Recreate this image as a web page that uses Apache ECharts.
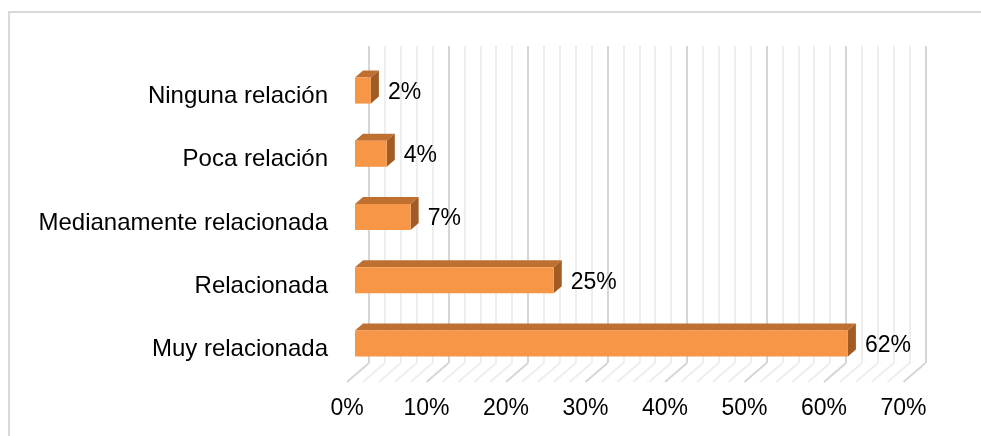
<!DOCTYPE html>
<html>
<head>
<meta charset="utf-8">
<script src="https://cdn.jsdelivr.net/npm/echarts@6/dist/echarts.min.js"></script>
<style>
  html, body { margin: 0; padding: 0; background: #ffffff; }
  #chart { width: 981px; height: 436px; }
</style>
</head>
<body>
<div id="chart"></div>
<script>
// Categories listed bottom to top (category axes grow upward)
const categories = ['Muy relacionada', 'Relacionada', 'Medianamente relacionada', 'Poca relación', 'Ninguna relación'];
const shares = [62, 25, 7, 4, 2];
const tickLabels = ['0%', '10%', '20%', '30%', '40%', '50%', '60%', '70%'];

const AXIS_MAX = 70;
const MAJOR_STEP = 10;
const MINOR_STEP = 2;

// Pseudo-3D geometry (pixels)
const FONT = "'Liberation Sans', Arial, sans-serif";
const WALL = { left: 369, top: 46, width: 556.5, height: 317 };
const FLOOR = { left: 347, top: 363, width: 556.5, height: 19 };
const FRONT = { left: 355, top: 65, width: 556.5, height: 316 };
const BAR_H = 26;
const BAR_DX = 8, BAR_DY = -7;
const BAR_LIFT = 6;

const COLORS = {
  front: '#F79646',
  top: '#BF6F30',
  side: '#A15B25',
  major: '#D6D6D6',
  minor: '#EEEEEE',
  frame: '#D9D9D9'
};

const chart = echarts.init(document.getElementById('chart'), null, { renderer: 'canvas' });

function renderBar(params, api) {
  const cat = api.value(1);
  const v = api.value(0);
  const p0 = api.coord([0, cat]);
  const p1 = api.coord([v, cat]);
  const x0 = p0[0], x1 = p1[0];
  const y0 = p0[1] - BAR_LIFT - BAR_H / 2;
  const y1 = y0 + BAR_H;
  return {
    type: 'group',
    children: [
      {
        type: 'polygon',
        shape: { points: [[x0, y0], [x0 + BAR_DX, y0 + BAR_DY], [x1 + BAR_DX, y0 + BAR_DY], [x1, y0]] },
        style: { fill: COLORS.top }
      },
      {
        type: 'polygon',
        shape: { points: [[x1, y0], [x1 + BAR_DX, y0 + BAR_DY], [x1 + BAR_DX, y1 + BAR_DY], [x1, y1]] },
        style: { fill: COLORS.side }
      },
      {
        type: 'rect',
        shape: { x: x0, y: y0, width: x1 - x0, height: BAR_H },
        style: { fill: COLORS.front }
      },
      {
        type: 'text',
        x: x1 + BAR_DX + 9,
        y: (y0 + y1) / 2 + 2,
        style: {
          text: v + '%',
          fill: '#000000',
          font: '23px ' + FONT,
          align: 'left',
          verticalAlign: 'middle'
        }
      }
    ]
  };
}

// Slanted floor lines joining each wall gridline to the front edge
function renderFloor(params, api) {
  const shift = WALL.left - FLOOR.left;
  const children = [];
  for (let v = 0; v <= AXIS_MAX; v += MINOR_STEP) {
    const front = api.coord([v, 0]);
    const back = api.coord([v, 1]);
    children.push({
      type: 'line',
      shape: { x1: back[0] + shift, y1: back[1], x2: front[0], y2: front[1] },
      style: { stroke: v % MAJOR_STEP === 0 ? COLORS.major : COLORS.minor, lineWidth: 2 }
    });
  }
  return { type: 'group', children: children };
}

const option = {
  animation: false,
  backgroundColor: '#ffffff',
  textStyle: { fontFamily: FONT },
  graphic: [{
    type: 'rect',
    shape: { x: 9, y: 12, width: 1000, height: 500 },
    style: { fill: 'none', stroke: COLORS.frame, lineWidth: 2 },
    silent: true
  }],
  grid: [
    { left: FRONT.left, top: FRONT.top, width: FRONT.width, height: FRONT.height },
    { left: WALL.left, top: WALL.top, width: WALL.width, height: WALL.height },
    { left: FLOOR.left, top: FLOOR.top, width: FLOOR.width, height: FLOOR.height }
  ],
  xAxis: [
    { gridIndex: 0, type: 'value', min: 0, max: AXIS_MAX, show: false },
    {
      gridIndex: 1, type: 'value', min: 0, max: AXIS_MAX, interval: MAJOR_STEP,
      axisLine: { show: false }, axisTick: { show: false }, axisLabel: { show: false },
      splitLine: { show: true, lineStyle: { color: COLORS.major, width: 2 } },
      minorTick: { show: false, splitNumber: MAJOR_STEP / MINOR_STEP },
      minorSplitLine: { show: true, lineStyle: { color: COLORS.minor, width: 2 } }
    },
    {
      gridIndex: 2, type: 'value', min: 0, max: AXIS_MAX, interval: MAJOR_STEP,
      position: 'bottom',
      axisLine: { show: false }, axisTick: { show: false },
      splitLine: { show: false },
      axisLabel: {
        show: true, margin: 15, color: '#000000', fontSize: 23, fontFamily: FONT,
        formatter: function (value) { return tickLabels[Math.round(value / MAJOR_STEP)]; }
      }
    }
  ],
  yAxis: [
    {
      gridIndex: 0, type: 'category', data: categories,
      axisLine: { show: false }, axisTick: { show: false }, splitLine: { show: false },
      axisLabel: { margin: 27, color: '#000000', fontSize: 24, fontFamily: FONT }
    },
    { gridIndex: 1, type: 'value', min: 0, max: 1, show: false },
    { gridIndex: 2, type: 'value', min: 0, max: 1, show: false }
  ],
  series: [
    {
      type: 'custom',
      xAxisIndex: 2, yAxisIndex: 2,
      renderItem: renderFloor,
      data: [[0, 0]],
      silent: true,
      z: 1
    },
    {
      type: 'custom',
      xAxisIndex: 0, yAxisIndex: 0,
      renderItem: renderBar,
      encode: { x: 0, y: 1 },
      data: shares.map(function (v, i) { return [v, i]; }),
      z: 3
    }
  ]
};

chart.setOption(option);
</script>
</body>
</html>
